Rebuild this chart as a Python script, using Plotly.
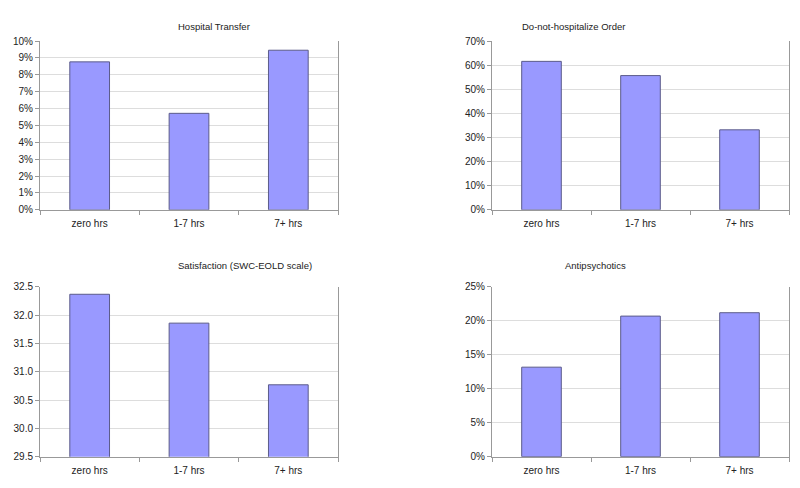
import plotly.graph_objs as go

categories = ['zero hrs', '1-7 hrs', '7+ hrs']

titles = ['Hospital Transfer', 'Do-not-hospitalize Order',
          'Satisfaction (SWC-EOLD scale)', 'Antipsychotics']

hospital_transfer = [0.0877, 0.0572, 0.0946]
dnh_order = [0.616, 0.557, 0.332]
satisfaction = [32.37, 31.86, 30.77]
antipsychotics = [0.1318, 0.207, 0.212]

series = [hospital_transfer, dnh_order, satisfaction, antipsychotics]
y_ranges = [[0, 0.10], [0, 0.70], [29.5, 32.5], [0, 0.25]]
y_dticks = [0.01, 0.10, 0.5, 0.05]
y_formats = ['.0%', '.0%', '.1f', '.0%']

W, H = 800, 488
# plot areas in pixels: (left, right, top, bottom)
boxes = [(40, 338, 36, 209), (492, 789, 36, 209),
         (40, 338, 288, 462), (492, 789, 288, 462)]
title_pos = [(176, 13), (628, 13), (176, 266), (628, 266)]

fig = go.Figure()
font = dict(family='Liberation Sans, Arial, sans-serif', size=10, color='#222222')

for i in range(4):
    n = '' if i == 0 else str(i + 1)
    fig.add_trace(go.Bar(
        x=categories, y=series[i], width=0.4,
        marker=dict(color='#9999ff', line=dict(color='#5c5c8a', width=1)),
        xaxis='x' + n, yaxis='y' + n, showlegend=False,
    ))
    l, r, t, b = boxes[i]
    fig.layout['xaxis' + n] = dict(
        domain=[l / W, r / W], anchor='y' + n, type='category',
        showline=True, linecolor='#999999', linewidth=1,
        ticks='outside', tickson='boundaries', ticklen=4, tickcolor='#999999',
        ticklabelstandoff=4,
        showgrid=False, tickfont=font, fixedrange=True,
    )
    fig.layout['yaxis' + n] = dict(
        domain=[1 - b / H, 1 - t / H], anchor='x' + n,
        range=y_ranges[i], dtick=y_dticks[i], tickformat=y_formats[i],
        showline=True, linecolor='#999999', linewidth=1, mirror=True,
        ticks='outside', ticklen=4, tickcolor='#999999',
        showgrid=True, gridcolor='#dddddd', gridwidth=1,
        zeroline=False, tickfont=font, fixedrange=True,
    )
    fig.add_annotation(
        text=titles[i], x=title_pos[i][0] / W, y=1 - title_pos[i][1] / H,
        xref='paper', yref='paper', showarrow=False,
        font=dict(family='Liberation Sans, Arial, sans-serif', size=9.5, color='#222222'),
    )

fig.update_layout(
    width=W, height=H,
    margin=dict(l=0, r=0, t=0, b=0),
    paper_bgcolor='white', plot_bgcolor='white',
    bargap=0.6,
)

# drop the default page margin so the 800x488 figure fills the window
fig.write_html('out.html', config={'displayModeBar': False},
               post_script="document.body.style.margin='0';")
